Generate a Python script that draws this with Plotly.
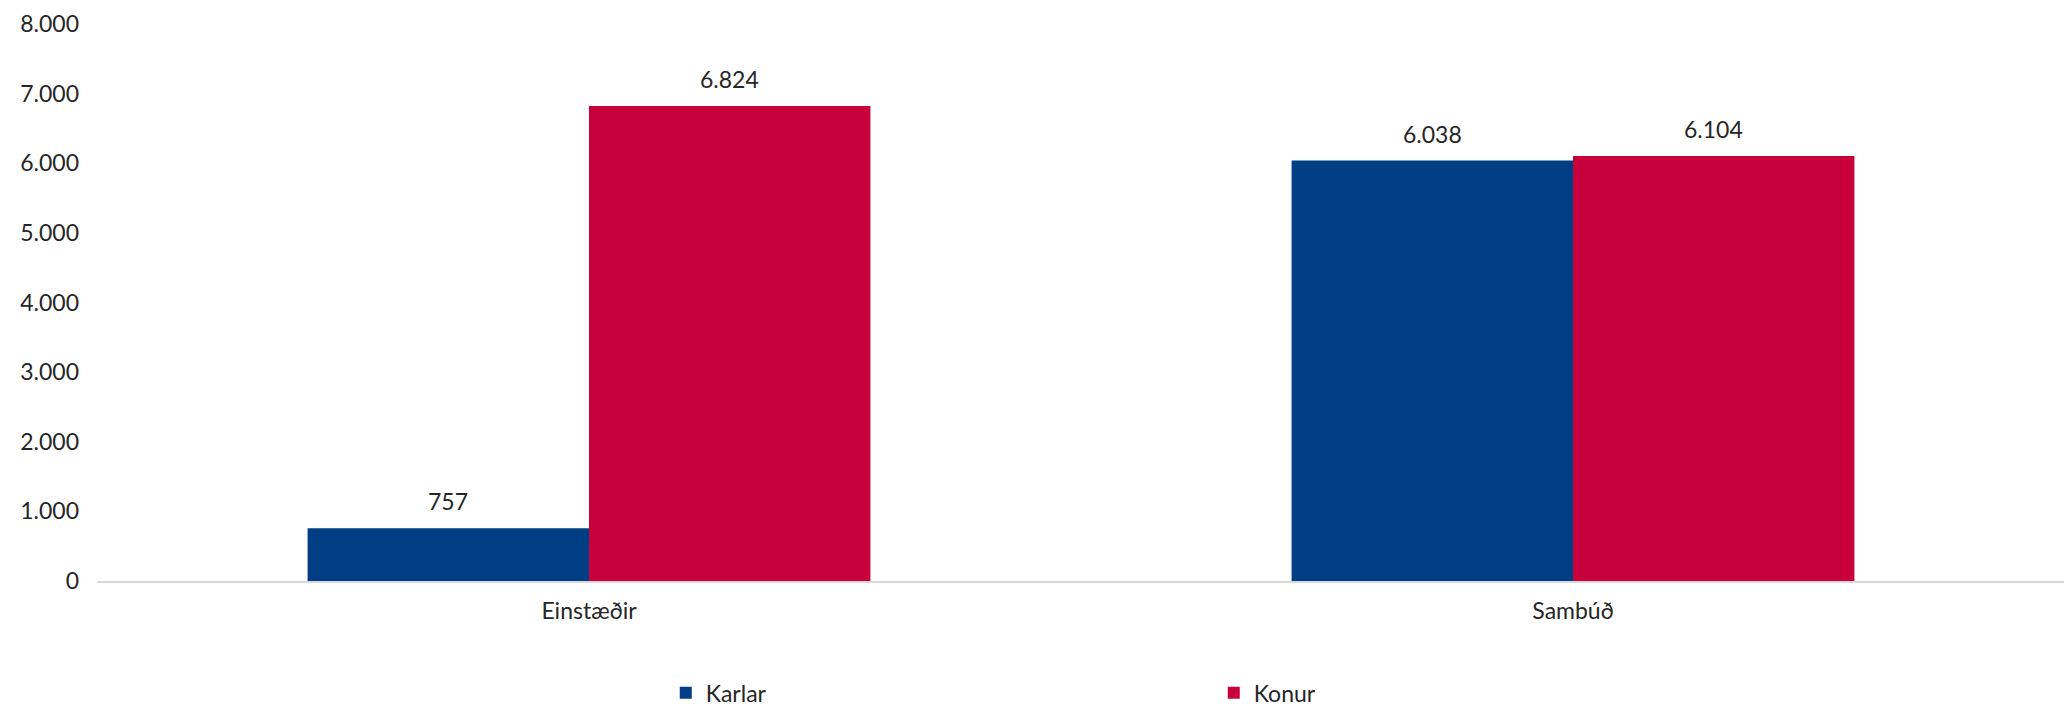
import plotly.graph_objects as go

categories = ["Einstæðir", "Sambúð"]
karlar = [757, 6038]
konur = [6824, 6104]
series_names = ["Karlar", "Konur"]
y_ticks = [0, 1000, 2000, 3000, 4000, 5000, 6000, 7000, 8000]

BLUE = "#023e84"
RED = "#c8003b"
FONT = "Lato"
FS = 23
TXT = "#262626"

# the page body has an 8px default margin, so the figure is sized to fit
W, H = 2064, 701
ML, MR, MT, MB = 89, 7, 16, 128
BARGAP = 0.428

fig = go.Figure()
for name, vals, col in [(series_names[0], karlar, BLUE), (series_names[1], konur, RED)]:
    fig.add_trace(go.Bar(
        name=name, x=categories, y=vals, marker=dict(color=col, line=dict(width=0)),
        hoverinfo="skip",
    ))

# data labels above the bars
plot_w = W - ML - MR
cat_w = plot_w / len(categories)
bar_w = cat_w * (1 - BARGAP) / 2
for i, vals in enumerate([karlar, konur]):
    shift = (i - 0.5) * bar_w
    for c, v in zip(categories, vals):
        fig.add_annotation(
            x=c, y=v, xref="x", yref="y", text=f"{v:,}".replace(",", "."),
            showarrow=False, xshift=shift, yshift=27, yanchor="middle",
            font=dict(family=FONT, size=FS, color=TXT),
        )

fig.update_layout(
    width=W, height=H,
    margin=dict(l=ML, r=MR, t=MT, b=MB, autoexpand=False),
    paper_bgcolor="white", plot_bgcolor="white",
    barmode="group", bargap=BARGAP, bargroupgap=0,
    separators=",.",
    font=dict(family=FONT, size=FS, color=TXT),
    showlegend=True,
    legend=dict(
        orientation="h", x=0.289, xanchor="left", y=-0.162, yanchor="top",
        entrywidth=503, entrywidthmode="pixels", itemwidth=30,
        tracegroupgap=0, borderwidth=0,
        font=dict(family=FONT, size=FS, color=TXT),
        traceorder="normal",
    ),
)
fig.update_xaxes(
    showline=True, linecolor="#d9d9d9", linewidth=2, showgrid=False,
    ticks="", tickfont=dict(family=FONT, size=FS, color=TXT),
    ticklabelstandoff=8, automargin=False,
)
fig.update_yaxes(
    range=[0, 8000], tickvals=y_ticks, tickformat=",.0f",
    showgrid=False, zeroline=False, showline=False, ticks="",
    tickfont=dict(family=FONT, size=FS, color=TXT),
    ticklabelstandoff=17, automargin=False,
)

fig.write_html("out.html")
